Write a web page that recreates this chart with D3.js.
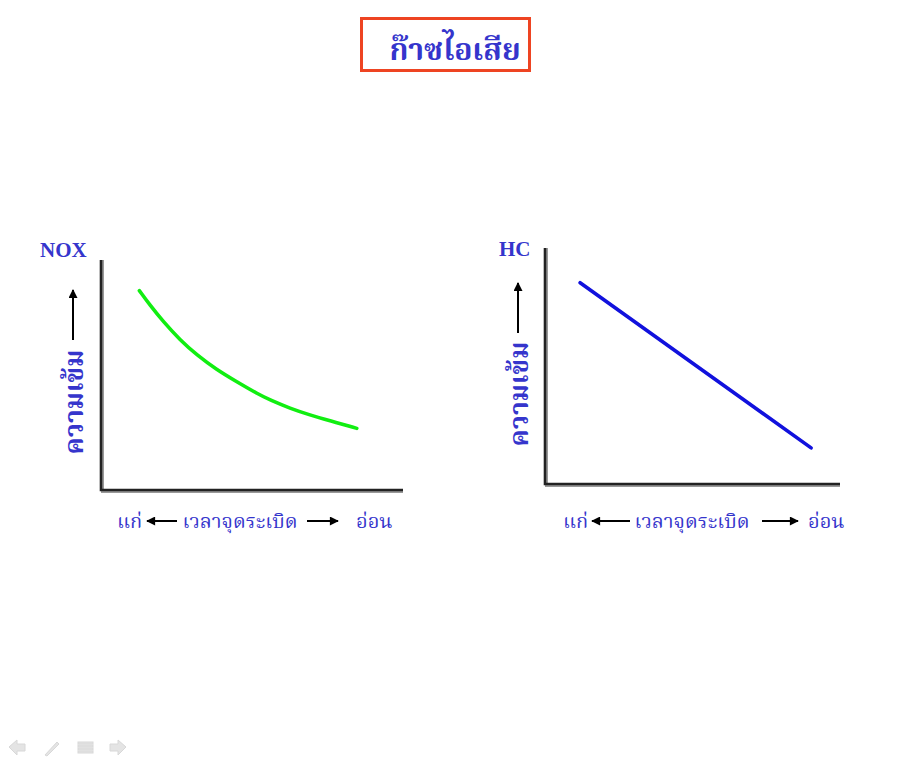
<!DOCTYPE html>
<html><head><meta charset="utf-8">
<script src="https://cdn.jsdelivr.net/npm/d3@7"></script>
<style>body{margin:0;background:#fff}svg{display:block}</style>
</head><body>
<script>
const title = "ก๊าซไอเสีย";
const yLabel = "ความเข้ม";
const xLeft = "แก่", xMid = "เวลาจุดระเบิด", xRight = "อ่อน";
const chartNames = ["NOX", "HC"];
// NOX curve (relative units 0..10)
const noxX = [1.27, 1.62, 2.06, 2.62, 3.17, 3.83, 4.49, 5.20, 5.60, 6.26, 6.92, 7.58, 8.47];
const noxY = [8.67, 8.04, 7.32, 6.52, 5.87, 5.23, 4.71, 4.17, 3.91, 3.55, 3.26, 3.01, 2.68];
// HC straight line
const hcX = [1.19, 9.02];
const hcY = [8.53, 1.53];

const W = 922, H = 768;
const svg = d3.select("body").append("svg").attr("width", W).attr("height", H);
const blue = "#3535cc";
const thai = "'Noto Serif Thai','Noto Sans Thai','Tahoma','Loma','Garuda','Noto Sans','DejaVu Sans',sans-serif";

// title
svg.append("rect").attr("x", 361.5).attr("y", 18.5).attr("width", 168).attr("height", 52)
  .attr("fill", "none").attr("stroke", "#ee4422").attr("stroke-width", 3);
svg.append("text").attr("x", 455).attr("y", 60).attr("text-anchor", "middle")
  .attr("font-family", thai).attr("font-weight", "bold").attr("font-size", 30)
  .attr("fill", blue).text(title);

const defs = svg.append("defs");
defs.append("marker").attr("id", "ah").attr("viewBox", "0 0 10 10").attr("refX", 9).attr("refY", 5)
  .attr("markerWidth", 10).attr("markerHeight", 9).attr("markerUnits", "userSpaceOnUse")
  .attr("orient", "auto").append("path").attr("d", "M0,0L10,5L0,10z").attr("fill", "#000");

const charts = [
  {name: chartNames[0], xs: noxX, ys: noxY, color: "#11ee11", curve: d3.curveBasis,
   ax: [101, 403], ay: [490, 260], nameX: 40, nameY: 257,
   yArrow: [73, 340, 290], yText: [76, 402],
   bottom: {y: 528, l: 117, la: [177, 147], m: 240, ra: [307, 338], r: 356}},
  {name: chartNames[1], xs: hcX, ys: hcY, color: "#1111dd", curve: d3.curveLinear,
   ax: [545, 840], ay: [484, 248], nameX: 499, nameY: 256,
   yArrow: [518, 333, 283], yText: [521, 394],
   bottom: {y: 528, l: 563, la: [630, 592], m: 692, ra: [762, 798], r: 808}}
];

charts.forEach(c => {
  const x = d3.scaleLinear().domain([0, 10]).range(c.ax);
  const y = d3.scaleLinear().domain([0, 10]).range(c.ay);
  const g = svg.append("g");
  // axes with slight shadow
  g.append("path").attr("d", `M${c.ax[0]+1.5},${c.ay[1]}V${c.ay[0]+1.5}H${c.ax[1]}`)
    .attr("fill", "none").attr("stroke", "#999").attr("stroke-width", 3);
  g.append("path").attr("d", `M${c.ax[0]},${c.ay[1]}V${c.ay[0]}H${c.ax[1]}`)
    .attr("fill", "none").attr("stroke", "#222").attr("stroke-width", 2.6);
  const line = d3.line().x(d => x(d[0])).y(d => y(d[1])).curve(c.curve);
  g.append("path").datum(c.xs.map((v, i) => [v, c.ys[i]])).attr("d", line)
    .attr("fill", "none").attr("stroke", c.color).attr("stroke-width", 3.6).attr("stroke-linecap", "round");
  // name
  g.append("text").attr("x", c.nameX).attr("y", c.nameY)
    .attr("font-family", "'Liberation Serif','Times New Roman',serif").attr("font-size", 21)
    .attr("font-weight", "bold").attr("fill", blue).text(c.name);
  // y arrow
  g.append("line").attr("x1", c.yArrow[0]).attr("x2", c.yArrow[0]).attr("y1", c.yArrow[1]).attr("y2", c.yArrow[2])
    .attr("stroke", "#000").attr("stroke-width", 2).attr("marker-end", "url(#ah)");
  g.append("text").attr("transform", `translate(${c.yText[0]},${c.yText[1]}) rotate(-90)`)
    .attr("text-anchor", "middle").attr("dominant-baseline", "central")
    .attr("font-family", thai).attr("font-weight", "bold").attr("font-size", 26)
    .attr("fill", blue).text(yLabel);
  // bottom labels
  const b = c.bottom;
  const tb = (tx, anchor, s) => g.append("text").attr("x", tx).attr("y", b.y).attr("text-anchor", anchor)
    .attr("font-family", thai).attr("font-size", 20).attr("fill", blue).text(s);
  tb(b.l, "start", xLeft);
  tb(b.m, "middle", xMid);
  tb(b.r, "start", xRight);
  [b.la, b.ra].forEach(a => g.append("line").attr("x1", a[0]).attr("x2", a[1]).attr("y1", 521).attr("y2", 521)
    .attr("stroke", "#000").attr("stroke-width", 2).attr("marker-end", "url(#ah)"));
});

// faint navigation icons
const nav = svg.append("g").attr("fill", "#e4e4e4").attr("stroke", "#d8d8d8").attr("stroke-width", 1);
nav.append("path").attr("d", "M9,747L17,740V744H25V751H17V755Z");
nav.append("path").attr("d", "M45,755L57,742L59,744L47,756Z");
[742, 745, 748, 751].forEach(yy => nav.append("rect").attr("x", 78).attr("y", yy).attr("width", 15).attr("height", 2));
nav.append("path").attr("d", "M126,747L118,740V744H110V751H118V755Z");
</script>
</body></html>
